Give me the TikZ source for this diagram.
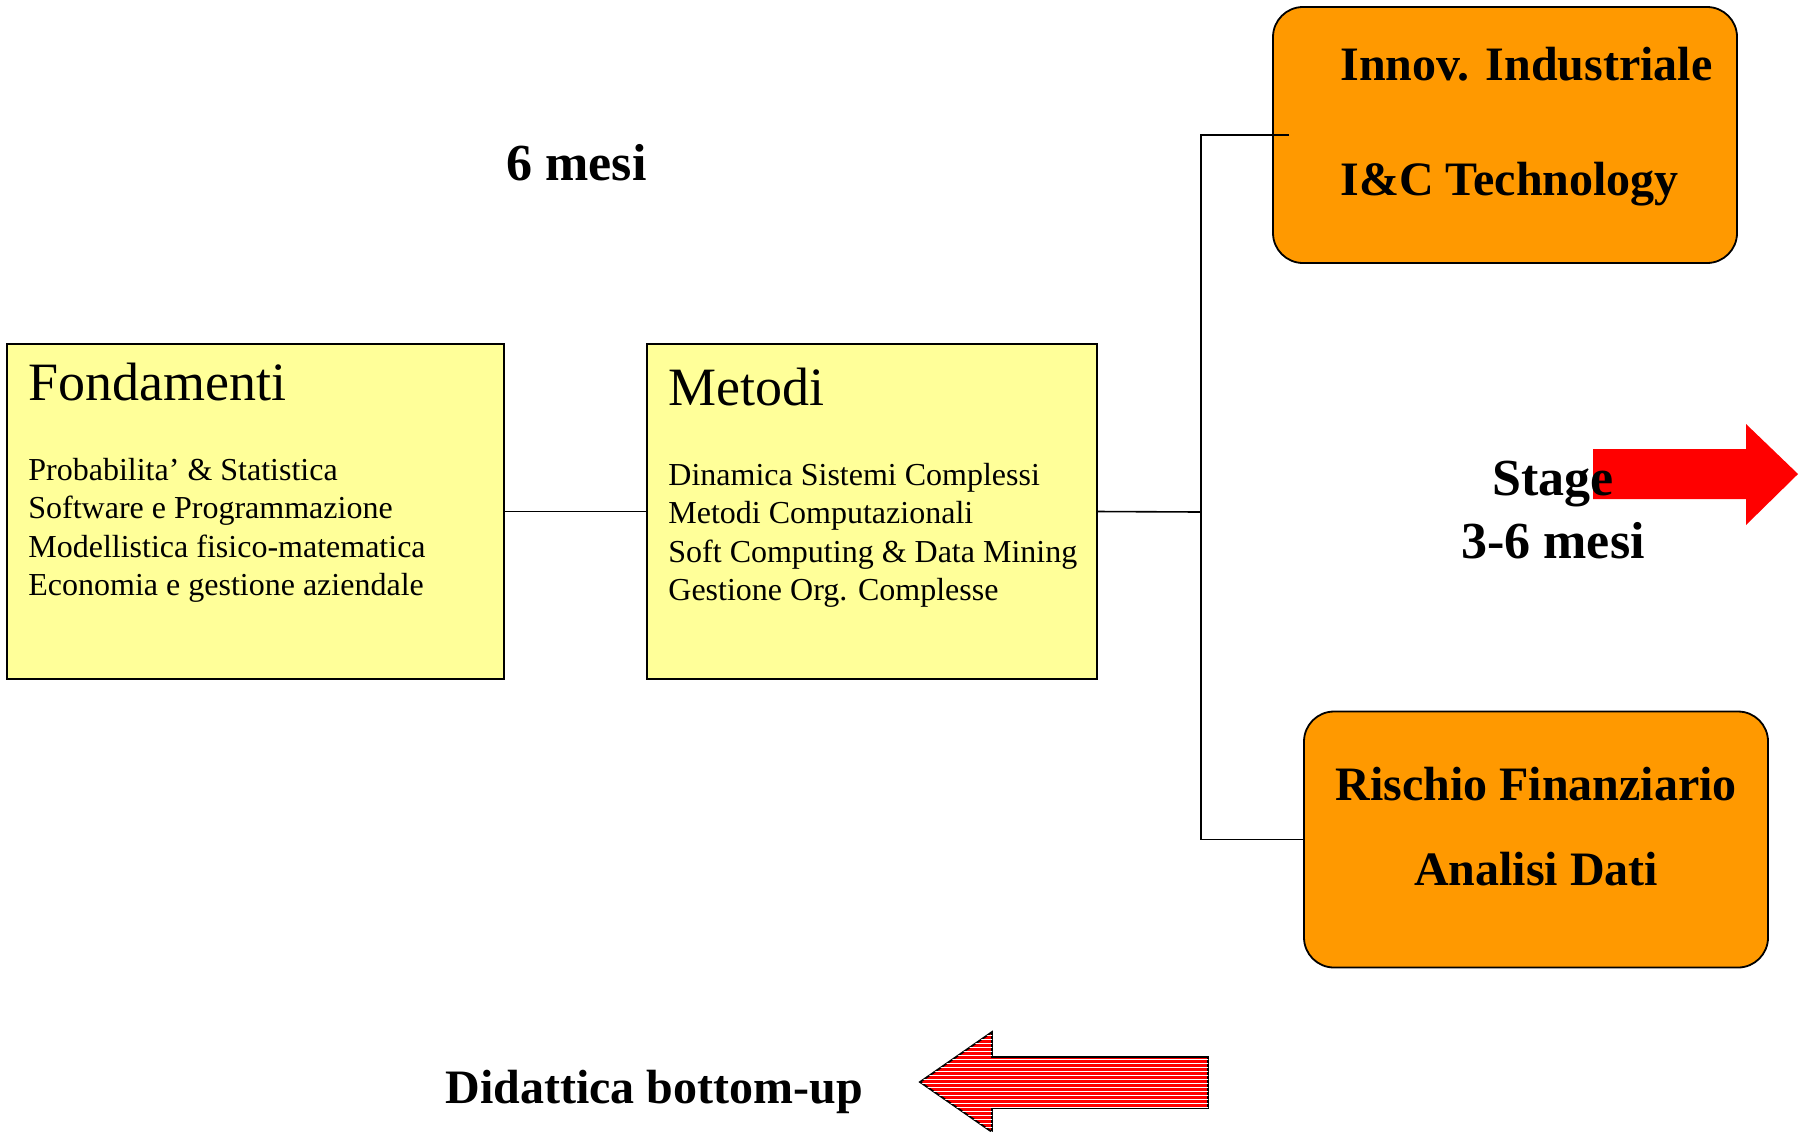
\documentclass[tikz,border=0pt]{standalone}
\usepackage{fontspec}
\setmainfont{Liberation Serif}
\usetikzlibrary{patterns.meta}
\definecolor{boxyellow}{HTML}{FFFF99}
\definecolor{boxorange}{HTML}{FF9900}
\begin{document}
\begin{tikzpicture}[x=0.5pt,y=-0.5pt,
  course/.style={draw=black, line width=0.9pt, fill=boxyellow, inner sep=0pt, outer sep=0pt, minimum height=167.5pt},
  track/.style={draw=black, line width=0.9pt, fill=boxorange, rounded corners=15pt, inner sep=0pt, outer sep=0pt, minimum width=232pt, minimum height=128pt},
  txt/.style={inner sep=0pt, anchor=base west},
  ctxt/.style={inner sep=0pt, anchor=base},
  titlefont/.style={font=\fontsize{27}{32}\selectfont},
  bodyfont/.style={font=\fontsize{16}{19}\selectfont},
  bigbold/.style={font=\fontsize{24}{29}\selectfont\bfseries},
  hugebold/.style={font=\fontsize{26}{31}\selectfont\bfseries},
  conn/.style={line width=0.8pt, draw=black}
]
\useasboundingbox (0,0) rectangle (1803,1131);

% yellow boxes
\node[course, minimum width=248.5pt] (fond) at (255.5,511.5) {};
\node[course, minimum width=225pt] (met) at (872,511.5) {};

% orange boxes
\node[track] (ib) at (1505,135) {};
\node[track] (rf) at (1536,839.5) {};

% connectors
\coordinate (jn) at (1201,512);
\coordinate (jtop) at (1201,135);
\coordinate (jbot) at (1201,839.5);
\draw[conn] (fond.east) -- (met.west);
\draw[conn] (met.east) -- (jn);
\draw[conn] ([xshift=8pt]ib.west) -- (jtop) -- (jbot) -- (rf.west);

% Fondamenti texts
\node[txt, titlefont] (fondT) at (28,400) {Fondamenti};
\node[txt, bodyfont] (f1) at (28,480) {Probabilita’ \& Statistica};
\node[txt, bodyfont] (f2) at (28,518.5) {Software e Programmazione};
\node[txt, bodyfont] (f3) at (28,557) {Modellistica fisico-matematica};
\node[txt, bodyfont] (f4) at (28,595.5) {Economia e gestione aziendale};

% Metodi texts
\node[txt, titlefont] (metT) at (668,405) {Metodi};
\node[txt, bodyfont] (m1) at (668,485) {Dinamica Sistemi Complessi};
\node[txt, bodyfont] (m2) at (668,523.5) {Metodi Computazionali};
\node[txt, bodyfont] (m3) at (668,562) {Soft Computing \& Data Mining};
\node[txt, bodyfont] (m4) at (668,600.5) {Gestione Org. Complesse};

% orange box texts
\node[txt, bigbold] (ib1) at (1340,80) {Innov. Industriale};
\node[txt, bigbold] (ib2) at (1340,195) {I\&C Technology};
\node[ctxt, bigbold] (rf1) at (1536,800) {Rischio Finanziario};
\node[ctxt, bigbold] (rf2) at (1536,885) {Analisi Dati};

% 6 mesi
\node[txt, hugebold] (sei) at (506,180) {6 mesi};

% stage arrow
\fill[red] (1593,449) -- (1746,449) -- (1746,424) -- (1798,474) -- (1746,525) -- (1746,499) -- (1593,499) -- cycle;
\node[ctxt, hugebold] (stage) at (1553,495) {Stage};
\node[ctxt, hugebold] (stagem) at (1553,558) {3-6 mesi};

% didattica arrow
\draw[line width=0.9pt, fill=red, postaction={pattern={Lines[angle=0,distance=2pt,line width=0.5pt]}, pattern color=white}]
  (920,1082) -- (992,1032) -- (992,1057) -- (1208,1057) -- (1208,1108) -- (992,1108) -- (992,1132) -- cycle;
\node[txt, bigbold] (did) at (445,1103) {Didattica bottom-up};
\end{tikzpicture}
\end{document}
